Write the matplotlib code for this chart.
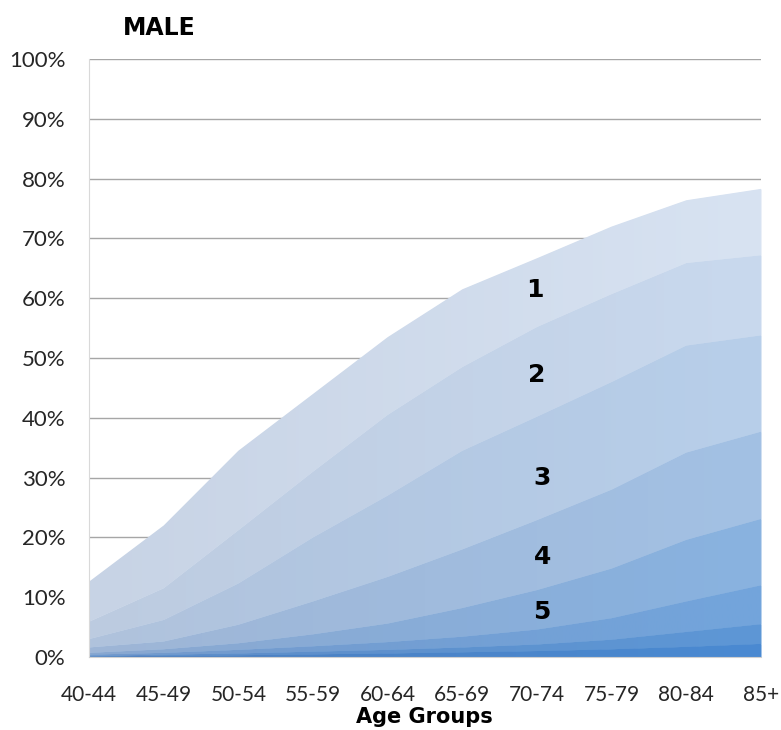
#!/usr/bin/env python3
"""
Stacked area chart - MALE, share by age group (bands 1-5 plus three thin bottom bands).
"""

import matplotlib
import numpy as np

matplotlib.use("Agg")
import matplotlib.pyplot as plt
from matplotlib.colors import LinearSegmentedColormap

plt.rcParams["font.family"] = ["Lato", "DejaVu Sans"]
BOLD_FONT = ["DejaVu Sans"]

age_groups = ["40-44", "45-49", "50-54", "55-59", "60-64", "65-69", "70-74", "75-79", "80-84", "85+"]

# band shares in %, bottom band first
band_8 = [0.1, 0.2, 0.3, 0.45, 0.6, 0.8, 1.0, 1.3, 1.7, 2.2]
band_7 = [0.1, 0.2, 0.3, 0.45, 0.6, 0.8, 1.1, 1.6, 2.5, 3.3]
band_6 = [0.2, 0.3, 0.6, 0.9, 1.3, 1.8, 2.5, 3.6, 5.1, 6.5]
band_5 = [0.3, 0.6, 1.1, 2.0, 3.1, 4.8, 6.6, 8.3, 10.3, 11.1]
band_4 = [0.9, 1.3, 3.1, 5.5, 7.8, 9.8, 11.7, 13.2, 14.6, 14.6]
band_3 = [1.4, 3.6, 6.9, 10.7, 13.6, 16.5, 17.3, 18.0, 17.9, 16.1]
band_2 = [2.9, 5.3, 8.9, 11.0, 13.5, 14.0, 15.0, 14.7, 13.8, 13.4]
band_1 = [6.7, 10.5, 13.3, 13.0, 13.0, 13.0, 11.5, 11.3, 10.5, 11.1]

band_labels = ["5", "4", "3", "2", "1"]

# (left colour, right colour) per band, bottom first
colors = [
    ("#4d7fbf", "#4a8ad2"),
    ("#5f8cc6", "#5d97d6"),
    ("#7399cb", "#73a5dc"),
    ("#88a7d0", "#8ab3e0"),
    ("#9db5d6", "#a3c1e4"),
    ("#afc2dc", "#b8cfea"),
    ("#bccbe0", "#c9d9ee"),
    ("#c7d3e5", "#d8e3f2"),
]


def main():
    fig = plt.figure(figsize=(7.81, 7.30), dpi=100)
    ax = fig.add_axes([0.114, 0.1, 0.8604, 0.819])

    x = np.arange(len(age_groups))
    bands = [band_8, band_7, band_6, band_5, band_4, band_3, band_2, band_1]
    grad = np.linspace(0, 1, 256).reshape(1, -1)

    lower = np.zeros(len(x))
    for vals, (c_left, c_right) in zip(bands, colors):
        upper = lower + np.array(vals) / 100
        poly = ax.fill_between(x, lower, upper, color=c_right, lw=0, zorder=2)
        cmap = LinearSegmentedColormap.from_list("band", [c_left, c_right])
        im = ax.imshow(grad, cmap=cmap, extent=[0, len(x) - 1, 0, 1], aspect="auto", zorder=2.1)
        im.set_clip_path(poly.get_paths()[0], transform=ax.transData)
        lower = upper

    ax.set_xlim(0, len(x) - 1)
    ax.set_ylim(0, 1)

    ax.set_yticks(np.arange(0, 1.01, 0.1))
    ax.set_yticklabels([f"{v}%" for v in range(0, 101, 10)])
    ax.set_xticks(x)
    ax.set_xticklabels(age_groups)
    ax.tick_params(axis="y", length=0, pad=17, labelsize=16, labelcolor="#262626")
    ax.tick_params(axis="x", length=0, pad=20, labelsize=15, labelcolor="#262626")

    ax.yaxis.grid(True, color="#a6a6a6", lw=1)
    ax.set_axisbelow(True)
    for s in ["top", "right"]:
        ax.spines[s].set_visible(False)
    ax.spines["left"].set_color("#d9d9d9")
    ax.spines["bottom"].set_color("#d0d0d0")

    # band numbers
    label_pos = [(6.07, 0.075), (6.07, 0.167), (6.07, 0.30), (6.0, 0.472), (5.97, 0.614)]
    for txt, (lx, ly) in zip(band_labels, label_pos):
        ax.text(lx, ly, txt, ha="center", va="center", fontsize=18, fontweight="bold",
                family=BOLD_FONT, zorder=5)

    fig.text(0.1575, 0.9616, "MALE", ha="left", va="center", fontsize=17, fontweight="bold",
             family=BOLD_FONT)
    fig.text(0.544, 0.018, "Age Groups", ha="center", va="center", fontsize=15, fontweight="bold",
             family=BOLD_FONT)

    fig.savefig("out.png", dpi=100)
    plt.close(fig)


if __name__ == "__main__":
    main()
